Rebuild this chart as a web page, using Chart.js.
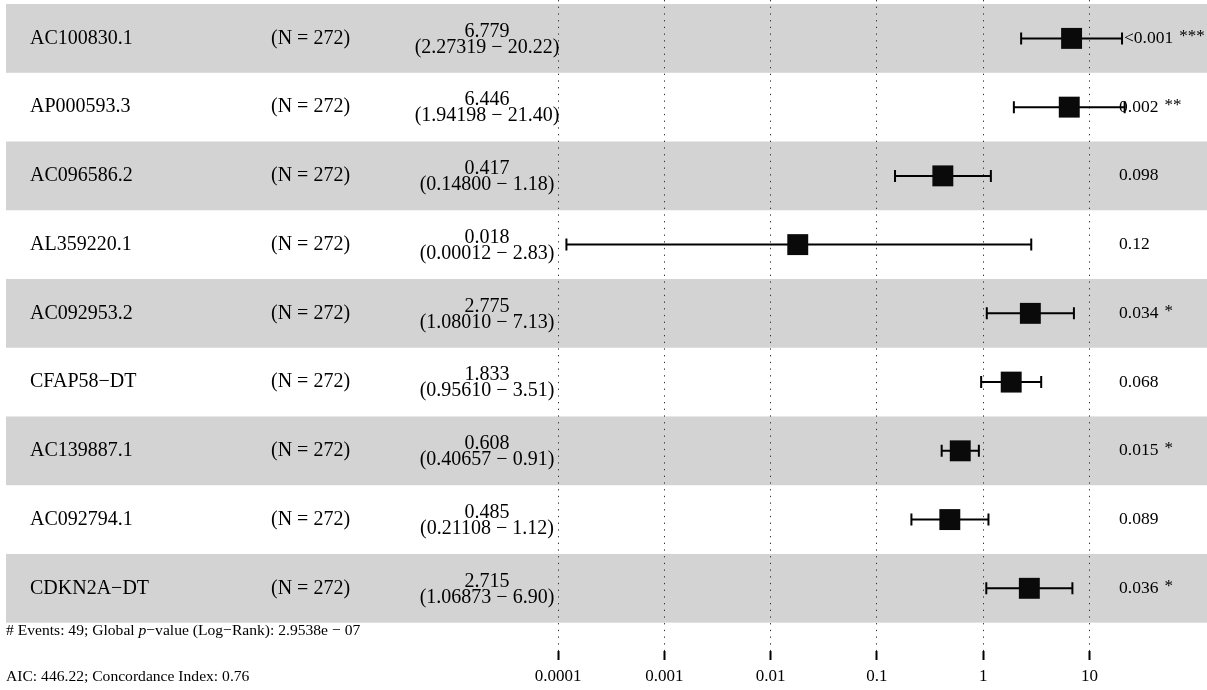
<!DOCTYPE html>
<html>
<head>
<meta charset="utf-8">
<script src="https://cdn.jsdelivr.net/npm/chart.js@4"></script>
<style>
  html, body { margin: 0; padding: 0; background: #fff; }
  #wrap { width: 1207px; height: 690px; }
</style>
</head>
<body>
<div id="wrap"><canvas id="forest"></canvas></div>
<script>
const genes = ['AC100830.1', 'AP000593.3', 'AC096586.2', 'AL359220.1', 'AC092953.2',
  'CFAP58\u2212DT', 'AC139887.1', 'AC092794.1', 'CDKN2A\u2212DT'];
const sampleSizes = [272, 272, 272, 272, 272, 272, 272, 272, 272];
const hazardRatio = [6.779, 6.446, 0.417, 0.018, 2.775, 1.833, 0.608, 0.485, 2.715];
const ciLower = [2.27319, 1.94198, 0.14800, 0.00012, 1.08010, 0.95610, 0.40657, 0.21108, 1.06873];
const ciUpper = [20.22, 21.40, 1.18, 2.83, 7.13, 3.51, 0.91, 1.12, 6.90];
const pValues = ['<0.001', '0.002', '0.098', '0.12', '0.034', '0.068', '0.015', '0.089', '0.036'];
const pStars = ['***', '**', '', '', '*', '', '*', '', '*'];
const tickValues = [0.0001, 0.001, 0.01, 0.1, 1, 10];
const tickLabels = ['0.0001', '0.001', '0.01', '0.1', '1', '10'];
const footEvents = ['# Events: 49; Global ', 'p', '\u2212value (Log\u2212Rank): 2.9538e \u2212 07'];
const footAic = 'AIC: 446.22; Concordance Index: 0.76';

const SERIF = '"Liberation Serif", "DejaVu Serif", serif';

// grey stripes behind every other row
const stripes = {
  id: 'stripes',
  beforeDraw(chart) {
    const { ctx, scales: { y }, chartArea } = chart;
    ctx.save();
    ctx.fillStyle = '#d3d3d3';
    genes.forEach((g, i) => {
      if (i % 2) return;
      const top = y.getPixelForValue(i - 0.5);
      const bot = y.getPixelForValue(i + 0.5);
      ctx.fillRect(6, top, chartArea.right - 6, bot - top);
    });
    ctx.restore();
  }
};

// confidence interval whiskers
const whiskers = {
  id: 'whiskers',
  beforeDatasetsDraw(chart) {
    const { ctx, scales: { x, y } } = chart;
    ctx.save();
    ctx.strokeStyle = '#000';
    ctx.lineWidth = 2;
    genes.forEach((g, i) => {
      const yy = y.getPixelForValue(i);
      const x0 = x.getPixelForValue(ciLower[i]);
      const x1 = x.getPixelForValue(ciUpper[i]);
      ctx.beginPath();
      ctx.moveTo(x0, yy); ctx.lineTo(x1, yy);
      ctx.moveTo(x0, yy - 6); ctx.lineTo(x0, yy + 6);
      ctx.moveTo(x1, yy - 6); ctx.lineTo(x1, yy + 6);
      ctx.stroke();
    });
    ctx.restore();
  }
};

// table columns and the footer notes
const table = {
  id: 'table',
  afterDraw(chart) {
    const { ctx, scales: { y } } = chart;
    ctx.save();
    ctx.fillStyle = '#000';
    ctx.textBaseline = 'middle';
    genes.forEach((g, i) => {
      const yy = y.getPixelForValue(i);
      ctx.font = '20px ' + SERIF;
      ctx.textAlign = 'left';
      ctx.fillText(g, 30, yy);
      ctx.fillText('(N = ' + sampleSizes[i] + ')', 271, yy);
      ctx.textAlign = 'center';
      ctx.fillText(hazardRatio[i].toFixed(3), 487, yy - 7);
      ctx.fillText('(' + ciLower[i].toFixed(5) + ' \u2212 ' + ciUpper[i].toFixed(2) + ')', 487, yy + 9);
      ctx.textAlign = 'left';
      ctx.font = '17.5px ' + SERIF;
      const px = pValues[i].startsWith('<') ? 1124 : 1119;
      ctx.fillText(pValues[i], px, yy);
      if (pStars[i]) {
        const w = ctx.measureText(pValues[i]).width;
        ctx.font = '17px ' + SERIF;
        ctx.fillText(pStars[i], px + w + 6, yy - 2);
      }
    });
    ctx.textAlign = 'left';
    let fx = 6;
    footEvents.forEach((s, k) => {
      ctx.font = (k === 1 ? 'italic ' : '') + '15.6px ' + SERIF;
      ctx.fillText(s, fx, 631);
      fx += ctx.measureText(s).width;
    });
    ctx.font = '15.6px ' + SERIF;
    ctx.fillText(footAic, 6, 677);
    ctx.restore();
  }
};

new Chart(document.getElementById('forest'), {
  type: 'scatter',
  data: {
    datasets: [{
      data: hazardRatio.map((v, i) => ({ x: v, y: i })),
      pointStyle: 'rect',
      pointRadius: 14.8,
      pointHoverRadius: 14.8,
      backgroundColor: '#0a0a0a',
      borderWidth: 0
    }]
  },
  options: {
    responsive: true,
    maintainAspectRatio: false,
    animation: false,
    events: [],
    layout: { padding: 0, autoPadding: false },
    plugins: { legend: { display: false }, tooltip: { enabled: false } },
    scales: {
      x: {
        type: 'logarithmic',
        min: 5.636e-10,
        max: 127.35,
        afterBuildTicks: s => { s.ticks = tickValues.map(v => ({ value: v })); },
        afterFit: s => { s.height = 39; },
        ticks: {
          autoSkip: false,
          maxRotation: 0,
          padding: 6,
          color: '#000',
          font: { family: SERIF, size: 17 },
          callback: (v, idx) => tickLabels[idx]
        },
        grid: {
          color: '#333',
          lineWidth: 1,
          tickLength: 9,
          tickColor: '#000',
          tickWidth: 2,
          tickBorderDash: [1, 0]
        },
        border: { display: false, dash: [1.3, 5.4] }
      },
      y: {
        type: 'linear',
        display: false,
        reverse: true,
        min: -0.5586,
        max: 8.912
      }
    }
  },
  plugins: [stripes, whiskers, table]
});
</script>
</body>
</html>
